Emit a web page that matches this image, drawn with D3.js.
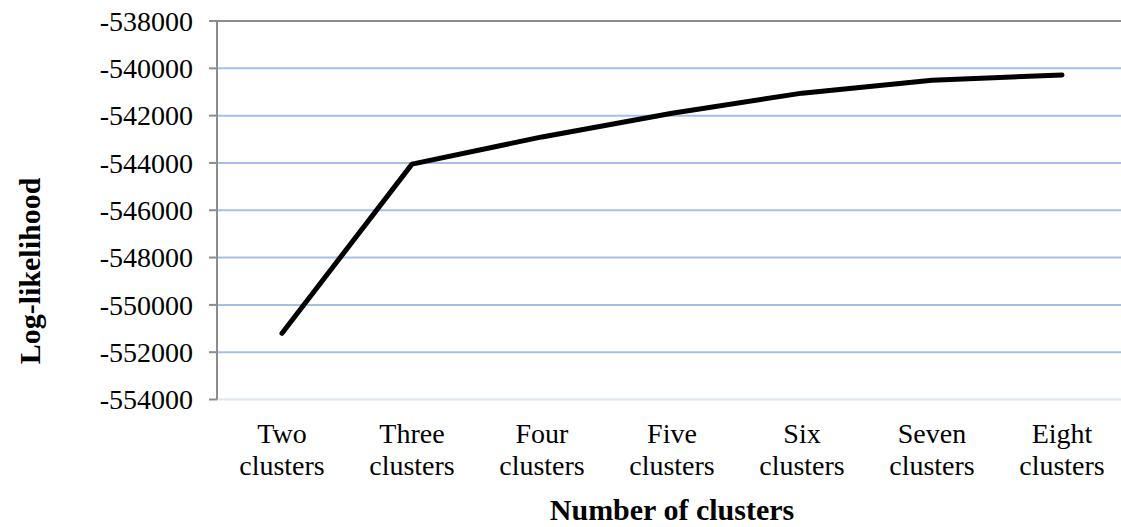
<!DOCTYPE html>
<html>
<head>
<meta charset="utf-8">
<script src="https://cdn.jsdelivr.net/npm/d3@7"></script>
<style>
body { margin:0; background:#fff; }
text { font-family: "Liberation Serif", "Times New Roman", serif; fill:#000; }
</style>
</head>
<body>
<div id="chart"></div>
<script>
var categories = [["Two","clusters"],["Three","clusters"],["Four","clusters"],["Five","clusters"],["Six","clusters"],["Seven","clusters"],["Eight","clusters"]];
var loglik = [-551200, -544050, -542900, -541900, -541050, -540500, -540280];
var yTicks = [-538000, -540000, -542000, -544000, -546000, -548000, -550000, -552000, -554000];

function MakeGraph(id){
	var width = 1121, height = 527;
	var mLeft = 217, mRight = 1127, mTop = 21, mBottom = 399.5;

	var svg = d3.select("#" + id).append("svg").attr("width", width).attr("height", height);

	var x = d3.scaleBand().domain(d3.range(categories.length)).range([mLeft, mRight]);
	var y = d3.scaleLinear().domain([-554000, -538000]).range([mBottom, mTop]);

	// grid lines, light blue (top one gray, bottom one faint)
	svg.selectAll(".hlines").data(yTicks).enter().append("line").attr("class","hlines")
		.attr("x1", mLeft).attr("x2", width)
		.attr("y1", function(d){ return y(d); }).attr("y2", function(d){ return y(d); })
		.style("stroke", function(d){
			if (d == -538000) return "#8c8c8c";
			if (d == -554000) return "#dce6f4";
			return "#a5bfe8";
		})
		.style("stroke-width", 2);

	// y axis line and ticks
	svg.append("line").attr("x1", mLeft).attr("x2", mLeft).attr("y1", mTop).attr("y2", mBottom)
		.style("stroke", "#8c8c8c").style("stroke-width", 2);
	svg.selectAll(".yticks").data(yTicks).enter().append("line").attr("class","yticks")
		.attr("x1", mLeft - 8).attr("x2", mLeft)
		.attr("y1", function(d){ return y(d); }).attr("y2", function(d){ return y(d); })
		.style("stroke", "#8c8c8c").style("stroke-width", 2);

	// y labels
	svg.append("g").selectAll("text").data(yTicks).enter().append("text")
		.attr("x", 193).attr("y", function(d){ return y(d); })
		.attr("dy", "0.35em").attr("text-anchor", "end")
		.style("font-size", "28px")
		.text(function(d){ return d; });

	// x labels, two lines each
	var xl = svg.append("g").selectAll("text").data(categories).enter().append("text")
		.attr("text-anchor", "middle").style("font-size", "28px");
	xl.append("tspan").attr("x", function(d,i){ return x(i) + x.bandwidth()/2; }).attr("y", 443)
		.text(function(d){ return d[0]; });
	xl.append("tspan").attr("x", function(d,i){ return x(i) + x.bandwidth()/2; }).attr("y", 475)
		.text(function(d){ return d[1]; });

	// the line
	var graph_line = d3.line()
		.x(function(d,i){ return x(i) + x.bandwidth()/2; })
		.y(function(d){ return y(d); });
	svg.append("path").datum(loglik).attr("d", graph_line)
		.attr("fill", "none").attr("stroke", "#000").attr("stroke-width", 5)
		.attr("stroke-linecap", "round").attr("stroke-linejoin", "round");

	// axis titles
	svg.append("text").attr("x", (mLeft + mRight)/2).attr("y", 520).attr("text-anchor", "middle")
		.style("font-size", "30px").style("font-weight", "bold").text("Number of clusters");
	svg.append("text").attr("transform", "translate(40,271)rotate(-90)")
		.attr("text-anchor", "middle")
		.style("font-size", "30px").style("font-weight", "bold").text("Log-likelihood");
}

MakeGraph("chart");
</script>
</body>
</html>
